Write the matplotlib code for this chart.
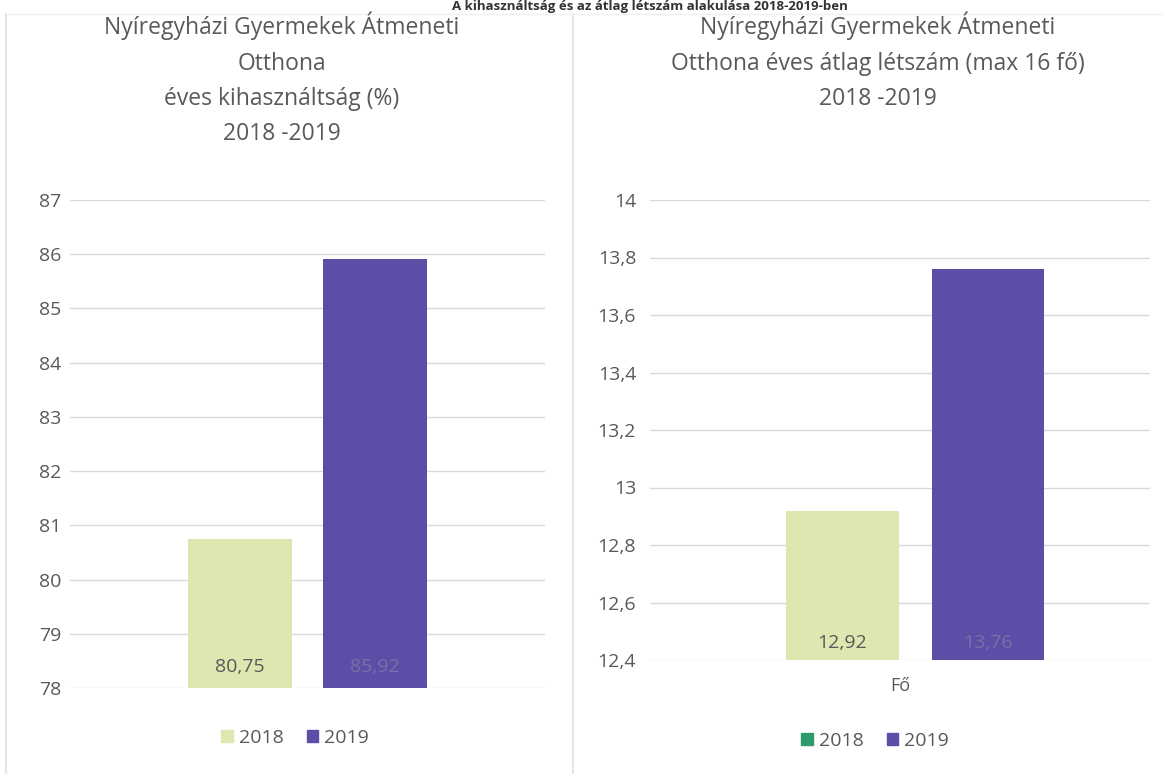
import matplotlib.pyplot as plt
from matplotlib.patches import Rectangle
from matplotlib.lines import Line2D

plt.rcParams['font.family'] = ['Open Sans', 'DejaVu Sans']

# adatok
years = ['2018', '2019']
kihasznaltsag = [80.75, 85.92]
letszam = [12.92, 13.76]
bal_ticks = [78, 79, 80, 81, 82, 83, 84, 85, 86, 87]
jobb_ticks = [12.4, 12.6, 12.8, 13.0, 13.2, 13.4, 13.6, 13.8, 14.0]
jobb_ticklabels = ['12,4', '12,6', '12,8', '13', '13,2', '13,4', '13,6', '13,8', '14']

W, H = 1162, 774
fig = plt.figure(figsize=(W / 100, H / 100), dpi=100)
fig.patch.set_facecolor('white')

# keretek
fig.add_artist(Line2D([6 / W, 6 / W], [0, 1 - 14 / H], color='#e6e6e6', lw=1.5))
fig.add_artist(Line2D([573 / W, 573 / W], [0, 1 - 14 / H], color='#e6e6e6', lw=1.5))
fig.add_artist(Line2D([6 / W, 1], [1 - 14 / H, 1 - 14 / H], color='#f0f0f0', lw=1))

fig.text(650 / W, 1, 'A kihasználtság és az átlag létszám alakulása 2018-2019-ben',
         ha='center', va='top', fontsize=9.5, fontweight='bold', color='#333333')

tick_c = '#595959'
grid_c = '#d9d9d9'
c2018 = '#dfe6b0'
c2019 = '#5a4ea6'


def px_axes(x0, x1, ybot, ytop):
    return fig.add_axes([x0 / W, 1 - ybot / H, (x1 - x0) / W, (ybot - ytop) / H])


# bal grafikon
ax1 = px_axes(70, 545, 688, 200)
ax1.set_xlim(-0.5, 0.5)
ax1.set_ylim(78, 87)
offs1 = [-0.142, 0.142]
for i, y in enumerate(years):
    ax1.bar(offs1[i], kihasznaltsag[i] - 78, bottom=78, width=0.22,
            color=[c2018, c2019][i], zorder=2)
ax1.text(offs1[0], 78.38, '80,75', ha='center', va='center', fontsize=14, color='#595959', zorder=3)
ax1.text(offs1[1], 78.38, '85,92', ha='center', va='center', fontsize=14, color='#7a70a8', zorder=3)
ax1.set_yticks(bal_ticks)
ax1.set_yticklabels([str(t) for t in bal_ticks])
ax1.set_xticks([])
fig.text(282 / W, 1 - 12 / H, 'Nyíregyházi Gyermekek Átmeneti\nOtthona\néves kihasználtság (%)\n2018 -2019',
         ha='center', va='top', fontsize=16.5, color=tick_c, linespacing=1.62)

# jobb grafikon
ax2 = px_axes(650, 1150, 660, 200)
ax2.set_xlim(-0.5, 0.5)
ax2.set_ylim(12.4, 14)
offs2 = [-0.115, 0.176]
for i, y in enumerate(years):
    ax2.bar(offs2[i], letszam[i] - 12.4, bottom=12.4, width=0.225,
            color=[c2018, c2019][i], zorder=2)
ax2.text(offs2[0], 12.46, '12,92', ha='center', va='center', fontsize=14, color='#595959', zorder=3)
ax2.text(offs2[1], 12.46, '13,76', ha='center', va='center', fontsize=14, color='#7a70a8', zorder=3)
ax2.set_yticks(jobb_ticks)
ax2.set_yticklabels(jobb_ticklabels)
ax2.set_xticks([0])
ax2.set_xticklabels(['Fő'])
fig.text(878 / W, 1 - 12 / H, 'Nyíregyházi Gyermekek Átmeneti\nOtthona éves átlag létszám (max 16 fő)\n2018 -2019',
         ha='center', va='top', fontsize=16.5, color=tick_c, linespacing=1.62)

for ax, p in ((ax1, 6), (ax2, 10)):
    for s in ax.spines.values():
        s.set_visible(False)
    ax.yaxis.grid(True, color=grid_c, lw=1, zorder=0)
    ax.set_axisbelow(True)
    ax.tick_params(axis='y', length=0, labelsize=14, labelcolor=tick_c, pad=p)
    ax.tick_params(axis='x', length=0, labelsize=13, labelcolor=tick_c, pad=12)

# jelmagyarázatok
h1 = [Rectangle((0, 0), 1, 1, color=c2018), Rectangle((0, 0), 1, 1, color=c2019)]
fig.legend(h1, years, loc='center', bbox_to_anchor=(295 / W, 1 - 738 / H), ncol=2,
           frameon=False, fontsize=14, labelcolor=tick_c, handlelength=0.6, handleheight=0.6,
           handletextpad=0.3, columnspacing=1.2)
h2 = [Rectangle((0, 0), 1, 1, color='#2e9a6e'), Rectangle((0, 0), 1, 1, color=c2019)]
fig.legend(h2, years, loc='center', bbox_to_anchor=(875 / W, 1 - 741 / H), ncol=2,
           frameon=False, fontsize=14, labelcolor=tick_c, handlelength=0.6, handleheight=0.6,
           handletextpad=0.3, columnspacing=1.2)

fig.savefig('out.png', dpi=100, facecolor='white')
